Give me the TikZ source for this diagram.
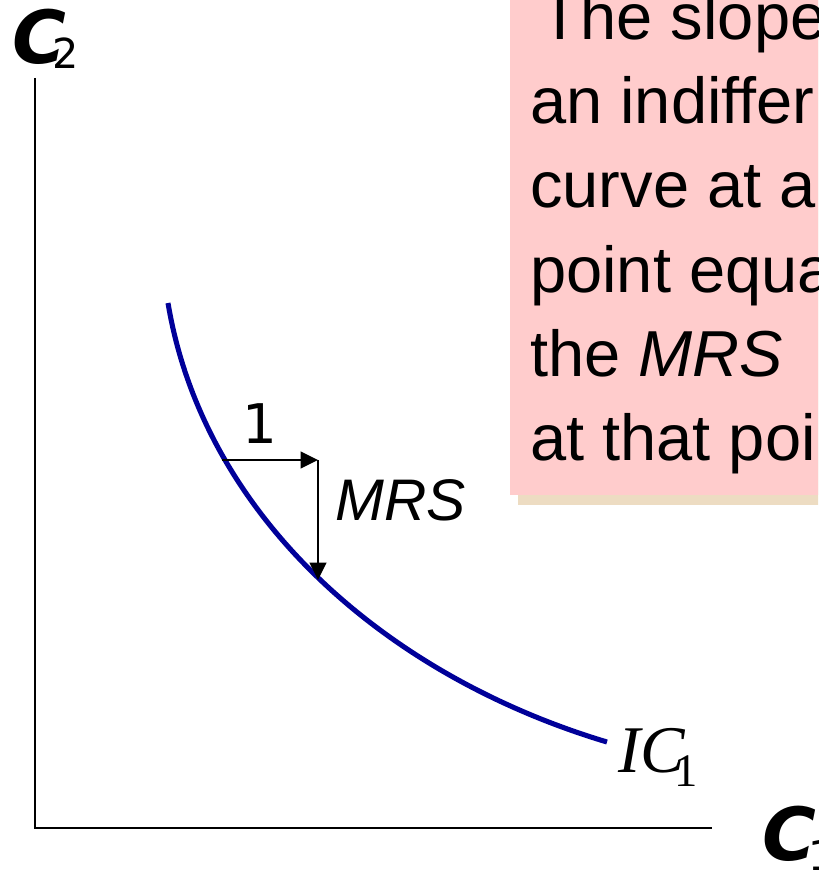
\documentclass[tikz,border=0pt]{standalone}
\usepackage{fontspec}
\setmainfont{Liberation Sans}
\newfontfamily\verdanafont{DejaVu Sans}
\newfontfamily\timesfont{Liberation Serif}
\usepackage{tikz}
\usetikzlibrary{arrows.meta,shadows}
\definecolor{icblue}{HTML}{000099}
\definecolor{notepink}{HTML}{FFCCCC}
\definecolor{notetan}{HTML}{EDDCC2}

\begin{document}
\begin{tikzpicture}[
    x=0.75pt, y=-0.75pt,
    axis/.style={line width=2.2pt, black},
    arrow/.style={-{Triangle[length=13pt, width=12.5pt]}, line width=1.4pt, black},
    curve/.style={line width=3.8pt, icblue},
    axislabel/.style={anchor=base west, inner sep=0pt, font=\verdanafont\fontsize{55}{55}\selectfont},
    notetext/.style={anchor=base west, inner sep=0pt, font=\fontsize{48.75}{63}\selectfont}
]
    \useasboundingbox (0,0) rectangle (818,873);
    \clip (0,0) rectangle (818,873);

    % pink note, cut off at the right edge
    \node[fill=notepink, anchor=south west, minimum width=250pt, minimum height=390pt,
          drop shadow={shadow xshift=6pt, shadow yshift=-7.5pt, fill=notetan, opacity=1}] (note) at (510,495) {};
    \foreach \txt [count=\i from 0] in {{\kern8pt The slope}, an indiffer, curve at a, point equa, {the \textit{MRS}}, at that poi}
        \node[notetext] (line\i) at (530,{40+84*\i}) {\txt};

    % axes
    \coordinate (ytop) at (35,78);
    \coordinate (origin) at (35,828);
    \coordinate (xend) at (712,828);
    \draw[axis] (ytop) -- (origin) -- (xend);
    \node[axislabel] (c2) at (12,64) {\bfseries\itshape C\kern-10pt\fontsize{31}{31}\selectfont\mdseries\upshape\raisebox{-3.75pt}{2}};
    \node[axislabel] (c1) at (762,860) {\bfseries\itshape C\kern-6pt\fontsize{31}{31}\selectfont\mdseries\upshape\raisebox{-7.5pt}{1}};

    % indifference curve
    \coordinate (icstart) at (168,303);
    \coordinate (icend) at (607,742);
    \draw[curve] (icstart) .. controls (203,513) and (382,674.5) .. (icend);
    \node[anchor=base west, inner sep=0pt, font=\timesfont\fontsize{50}{50}\selectfont] (ic1) at (618,772) {\itshape IC\kern-8pt\upshape\fontsize{35}{35}\selectfont\raisebox{-11pt}{1}};

    % MRS triangle
    \coordinate (p1) at (222,460);
    \coordinate (corner) at (318,460);
    \coordinate (p2) at (318,580);
    \draw[arrow] (p1) -- (corner);
    \draw[arrow] (corner) -- (p2);
    \node[anchor=base, inner sep=0pt, font=\verdanafont\fontsize{41}{41}\selectfont] (one) at (260,443) {1};
    \node[anchor=base west, inner sep=0pt, font=\fontsize{44}{44}\selectfont\itshape] (mrs) at (335,520) {MRS};
\end{tikzpicture}
\end{document}
